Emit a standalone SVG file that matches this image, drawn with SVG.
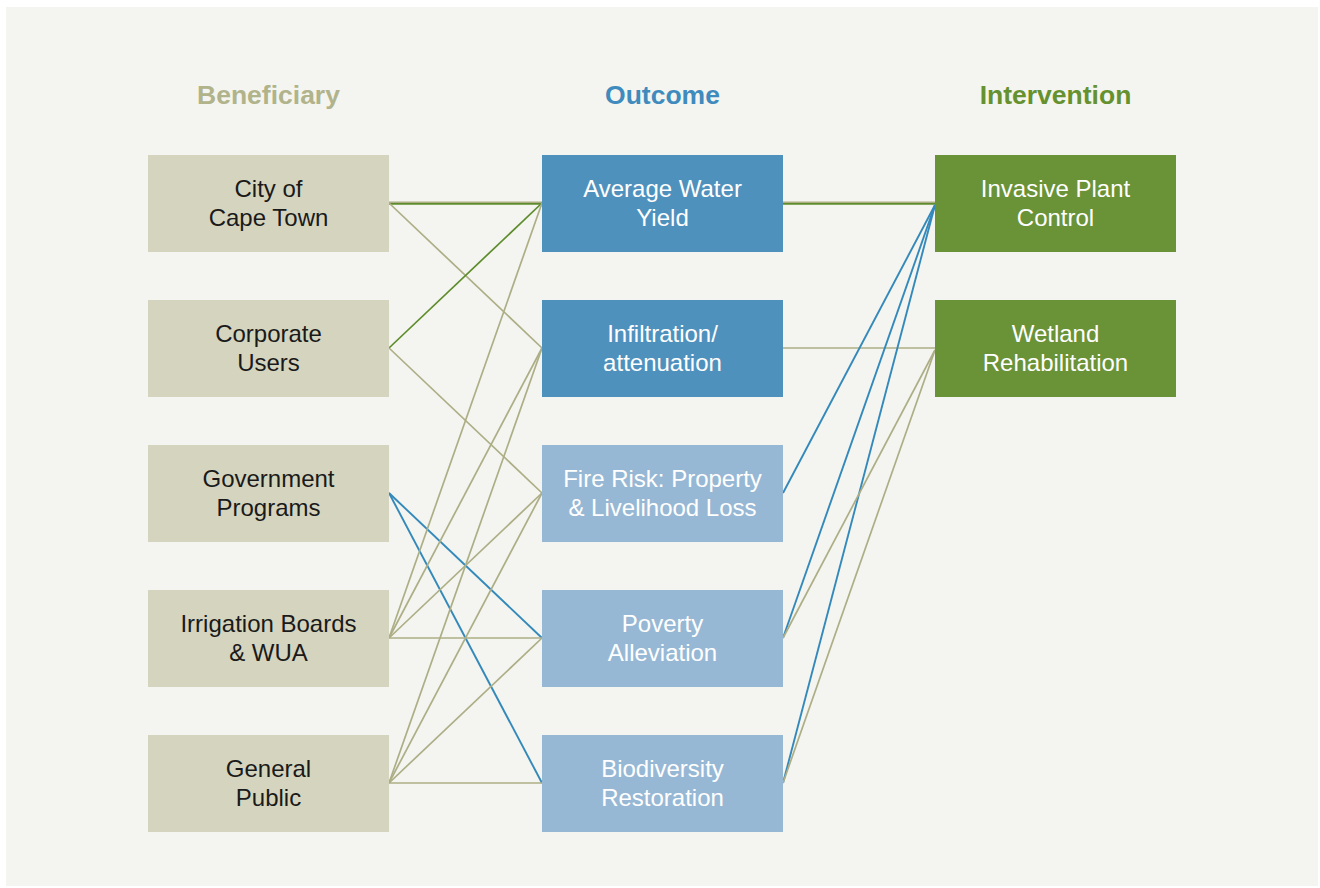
<svg xmlns="http://www.w3.org/2000/svg" width="1320" height="888" viewBox="0 0 1320 888">
<style>
.hdr{font-family:"Liberation Sans",Arial,sans-serif;font-weight:bold;font-size:26.5px;text-anchor:middle}
.t{font-family:"Liberation Sans",Arial,sans-serif;font-size:24px;text-anchor:middle}
.dk{fill:#1a1a1a}
.wt{fill:#ffffff}
.ben{fill:#d5d4bf}
.outd{fill:#4f91bd}
.outl{fill:#97b8d4}
.int{fill:#6a9237}
.k{stroke:#adae86;stroke-width:1.7;fill:none}
.g{stroke:#5e8c2c;stroke-width:1.7;fill:none}
.b{stroke:#3489bb;stroke-width:1.9;fill:none}
</style>
<rect x="0" y="0" width="1320" height="888" fill="#ffffff"/>
<rect x="6" y="7" width="1312" height="879" fill="#f4f5f0"/>
<text class="hdr" x="268.5" y="104" fill="#b1b38b">Beneficiary</text>
<text class="hdr" x="662.5" y="104" fill="#3f8bbd">Outcome</text>
<text class="hdr" x="1055.5" y="104" fill="#66912f">Intervention</text>
<g id="connectors">
<line class="k" x1="389" y1="202.4" x2="542" y2="202.4"/>
<line class="g" x1="389" y1="203.8" x2="542" y2="203.8"/>
<line class="k" x1="389" y1="203" x2="542" y2="348"/>
<line class="g" x1="389" y1="348" x2="542" y2="203"/>
<line class="k" x1="389" y1="348" x2="542" y2="493"/>
<line class="b" x1="389" y1="493" x2="542" y2="638"/>
<line class="b" x1="389" y1="493" x2="542" y2="783"/>
<line class="k" x1="389" y1="638" x2="542" y2="203"/>
<line class="k" x1="389" y1="638" x2="542" y2="348"/>
<line class="k" x1="389" y1="638" x2="542" y2="493"/>
<line class="k" x1="389" y1="638" x2="542" y2="638"/>
<line class="k" x1="389" y1="783" x2="542" y2="348"/>
<line class="k" x1="389" y1="783" x2="542" y2="493"/>
<line class="k" x1="389" y1="783" x2="542" y2="638"/>
<line class="k" x1="389" y1="783" x2="542" y2="783"/>
<line class="k" x1="783" y1="202.4" x2="935" y2="202.4"/>
<line class="g" x1="783" y1="203.8" x2="935" y2="203.8"/>
<line class="k" x1="783" y1="348" x2="935" y2="348"/>
<line class="b" x1="783" y1="493" x2="935" y2="205"/>
<line class="b" x1="783" y1="638" x2="935" y2="205"/>
<line class="b" x1="783" y1="783" x2="935" y2="205"/>
<line class="k" x1="783" y1="638" x2="935" y2="350"/>
<line class="k" x1="783" y1="783" x2="935" y2="350"/>
</g>
<g id="ben-city"><rect class="ben" x="148" y="155" width="241" height="97"/><text class="t dk" x="268.5" y="197">City of</text><text class="t dk" x="268.5" y="226">Cape Town</text></g>
<g id="ben-corp"><rect class="ben" x="148" y="300" width="241" height="97"/><text class="t dk" x="268.5" y="342">Corporate</text><text class="t dk" x="268.5" y="371">Users</text></g>
<g id="ben-gov"><rect class="ben" x="148" y="445" width="241" height="97"/><text class="t dk" x="268.5" y="487">Government</text><text class="t dk" x="268.5" y="516">Programs</text></g>
<g id="ben-irr"><rect class="ben" x="148" y="590" width="241" height="97"/><text class="t dk" x="268.5" y="632">Irrigation Boards</text><text class="t dk" x="268.5" y="661">&amp; WUA</text></g>
<g id="ben-pub"><rect class="ben" x="148" y="735" width="241" height="97"/><text class="t dk" x="268.5" y="777">General</text><text class="t dk" x="268.5" y="806">Public</text></g>
<g id="out-awy"><rect class="outd" x="542" y="155" width="241" height="97"/><text class="t wt" x="662.5" y="197">Average Water</text><text class="t wt" x="662.5" y="226">Yield</text></g>
<g id="out-inf"><rect class="outd" x="542" y="300" width="241" height="97"/><text class="t wt" x="662.5" y="342">Infiltration/</text><text class="t wt" x="662.5" y="371">attenuation</text></g>
<g id="out-fire"><rect class="outl" x="542" y="445" width="241" height="97"/><text class="t wt" x="662.5" y="487">Fire Risk: Property</text><text class="t wt" x="662.5" y="516">&amp; Livelihood Loss</text></g>
<g id="out-pov"><rect class="outl" x="542" y="590" width="241" height="97"/><text class="t wt" x="662.5" y="632">Poverty</text><text class="t wt" x="662.5" y="661">Alleviation</text></g>
<g id="out-bio"><rect class="outl" x="542" y="735" width="241" height="97"/><text class="t wt" x="662.5" y="777">Biodiversity</text><text class="t wt" x="662.5" y="806">Restoration</text></g>
<g id="int-ipc"><rect class="int" x="935" y="155" width="241" height="97"/><text class="t wt" x="1055.5" y="197">Invasive Plant</text><text class="t wt" x="1055.5" y="226">Control</text></g>
<g id="int-wet"><rect class="int" x="935" y="300" width="241" height="97"/><text class="t wt" x="1055.5" y="342">Wetland</text><text class="t wt" x="1055.5" y="371">Rehabilitation</text></g>
</svg>
